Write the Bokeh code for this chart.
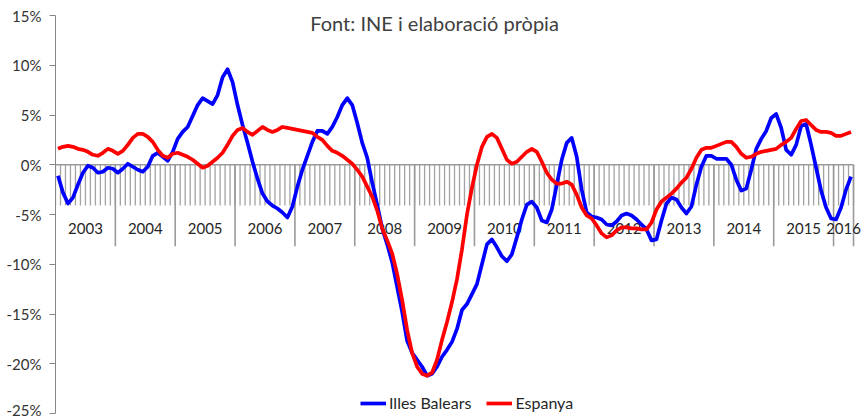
from bokeh.plotting import figure
from bokeh.models import Range1d, PrintfTickFormatter, Legend, LegendItem, Label, ColumnDataSource
from bokeh.core.properties import value
from bokeh.embed import file_html
from bokeh.resources import INLINE

# ---- data (monthly year-on-year change, %, Jan 2003 - Apr 2016) ----
years = ["2003", "2004", "2005", "2006", "2007", "2008", "2009",
         "2010", "2011", "2012", "2013", "2014", "2015", "2016"]
months_per_year = [12] * 13 + [4]

illes_balears = [
    -1.1, -2.8, -3.9, -3.3, -2.0, -0.8, -0.1, -0.3, -0.8, -0.7, -0.3, -0.4,
    -0.8, -0.4, 0.1, -0.2, -0.5, -0.7, -0.2, 0.9, 1.2, 0.8, 0.4, 1.3,
    2.6, 3.3, 3.8, 4.9, 6.0, 6.7, 6.4, 6.1, 7.0, 8.8, 9.6, 8.3,
    6.0, 4.0, 2.2, 0.3, -1.4, -2.9, -3.7, -4.1, -4.4, -4.8, -5.3, -4.2,
    -2.2, -0.5, 0.9, 2.3, 3.4, 3.4, 3.1, 3.8, 4.8, 6.0, 6.7, 6.0,
    4.2, 2.2, 0.7, -1.8, -4.0, -6.4, -8.0, -9.8, -12.3, -14.8, -17.7, -18.9,
    -19.6, -20.3, -21.2, -21.0, -20.3, -19.3, -18.6, -17.8, -16.5, -14.6, -14.0, -13.0,
    -12.0, -10.0, -8.0, -7.5, -8.3, -9.2, -9.7, -9.0, -7.3, -5.5, -4.0, -3.7,
    -4.3, -5.6, -5.8, -4.5, -2.0, 0.5, 2.2, 2.7, 0.8, -2.5, -4.8, -5.2,
    -5.3, -5.5, -6.0, -6.1, -5.7, -5.1, -4.9, -5.1, -5.5, -6.0, -6.5, -7.6,
    -7.5, -5.6, -3.9, -3.3, -3.5, -4.3, -4.9, -4.2, -2.0, -0.2, 0.9, 0.9,
    0.6, 0.6, 0.6, 0.0, -1.5, -2.6, -2.4, -0.5, 1.6, 2.6, 3.4, 4.7,
    5.1, 3.7, 1.5, 1.0, 2.0, 3.9, 4.1, 2.0, -0.3, -2.6, -4.3, -5.4,
    -5.5, -4.3, -2.5, -1.2,
]

espanya = [
    1.6, 1.8, 1.9, 1.8, 1.6, 1.5, 1.3, 1.0, 0.9, 1.2, 1.6, 1.4,
    1.1, 1.4, 2.0, 2.7, 3.1, 3.1, 2.8, 2.3, 1.5, 0.9, 0.7, 1.1,
    1.2, 1.0, 0.8, 0.5, 0.1, -0.3, -0.1, 0.3, 0.7, 1.2, 2.0, 2.9,
    3.5, 3.7, 3.3, 3.0, 3.4, 3.8, 3.5, 3.3, 3.5, 3.8, 3.7, 3.6,
    3.5, 3.4, 3.3, 3.2, 2.8, 2.5, 1.9, 1.4, 1.2, 0.9, 0.5, 0.1,
    -0.5, -1.2, -2.2, -3.2, -4.6, -6.4, -7.6, -8.9, -11.0, -13.6, -16.6, -18.9,
    -20.3, -21.0, -21.2, -20.9, -19.6, -17.6, -15.8, -13.8, -11.5, -8.5, -5.0, -2.3,
    0.0, 1.8, 2.8, 3.1, 2.7, 1.6, 0.5, 0.1, 0.3, 0.8, 1.3, 1.6,
    1.3, 0.3, -0.8, -1.5, -1.9, -1.9, -1.7, -2.0, -3.0, -4.3, -5.1, -5.4,
    -6.1, -6.9, -7.3, -7.1, -6.6, -6.3, -6.3, -6.4, -6.4, -6.5, -6.5, -5.8,
    -4.5, -3.7, -3.3, -2.9, -2.4, -1.8, -1.3, -0.4, 0.7, 1.5, 1.7, 1.7,
    1.9, 2.1, 2.3, 2.3, 1.8, 1.1, 0.7, 0.8, 1.1, 1.3, 1.4, 1.5,
    1.6, 2.0, 2.3, 2.7, 3.6, 4.4, 4.5, 4.0, 3.5, 3.3, 3.3, 3.2,
    2.9, 2.9, 3.1, 3.3,
]

y_ticks = [-25, -20, -15, -10, -5, 0, 5, 10, 15]
title_text = "Font: INE i elaboració pròpia"
series_names = ["Illes Balears", "Espanya"]

# ---- derived positions ----
n = len(illes_balears)
x_mid = [i + 0.5 for i in range(n)]
boundaries = list(range(n + 1))
year_starts = []
acc = 0
for m in months_per_year:
    year_starts.append(acc)
    acc += m
year_bounds = year_starts[1:] + [acc]
year_centers = [s + m / 2 for s, m in zip(year_starts, months_per_year)]

FONT = "Lato"
GREY = "#9a9a9a"

# frame runs a little past the last month so the last year label is not clipped
p = figure(width=863, height=418, output_backend="svg", toolbar_location=None,
           x_range=Range1d(0, n + 2), y_range=Range1d(-25, 15),
           x_axis_location=None, min_border_left=55, min_border_right=0,
           min_border_top=15, min_border_bottom=5)
p.outline_line_color = None
p.xgrid.visible = False
p.ygrid.visible = False
p.background_fill_color = "white"

# y axis
p.yaxis.ticker = y_ticks
p.yaxis.formatter = PrintfTickFormatter(format="%d%%")
p.yaxis.minor_tick_line_color = None
p.yaxis.axis_line_color = "#868686"
p.yaxis.major_tick_line_color = "#868686"
p.yaxis.major_tick_out = 6
p.yaxis.major_tick_in = 0
p.yaxis.major_label_standoff = 8
p.yaxis.major_label_text_font = FONT
p.yaxis.major_label_text_font_size = "15px"
p.yaxis.major_label_text_color = "#333333"

# category axis drawn at y = 0
p.segment(x0=boundaries, y0=[0] * len(boundaries), x1=boundaries, y1=[-4.1] * len(boundaries),
          line_color="#a3a3a3", line_width=1.3)
p.segment(x0=year_bounds, y0=[0] * len(year_bounds), x1=year_bounds, y1=[-8.2] * len(year_bounds),
          line_color=GREY, line_width=1.6)
p.segment(x0=[0], y0=[0], x1=[n], y1=[0], line_color=GREY, line_width=1.6)

p.text(x=year_centers, y=[-6.4] * len(year_centers), text=years,
       text_align="center", text_baseline="middle", text_font=value(FONT),
       text_font_size="15px", text_color="#262626")

# series
src = ColumnDataSource(dict(x=x_mid, ib=illes_balears, es=espanya))
r1 = p.line("x", "ib", source=src, line_color="#0000ff", line_width=3.7, line_join="round")
r2 = p.line("x", "es", source=src, line_color="#ff0000", line_width=3.7, line_join="round")

legend = Legend(items=[LegendItem(label=series_names[0], renderers=[r1]),
                       LegendItem(label=series_names[1], renderers=[r2])],
                orientation="horizontal", location=(305, 1),
                background_fill_alpha=0, border_line_color=None,
                margin=0, padding=0, spacing=15, label_standoff=3,
                glyph_width=26, glyph_height=18, label_height=18,
                label_text_font=FONT, label_text_font_size="16px",
                label_text_color="#262626")
p.add_layout(legend, "center")

p.add_layout(Label(x=n / 2 - 4, y=14.2, text=title_text, text_align="center",
                   text_baseline="middle", text_font=FONT, text_font_size="20px",
                   text_color="#404040"))

open("out.html", "w").write(file_html(p, INLINE))
